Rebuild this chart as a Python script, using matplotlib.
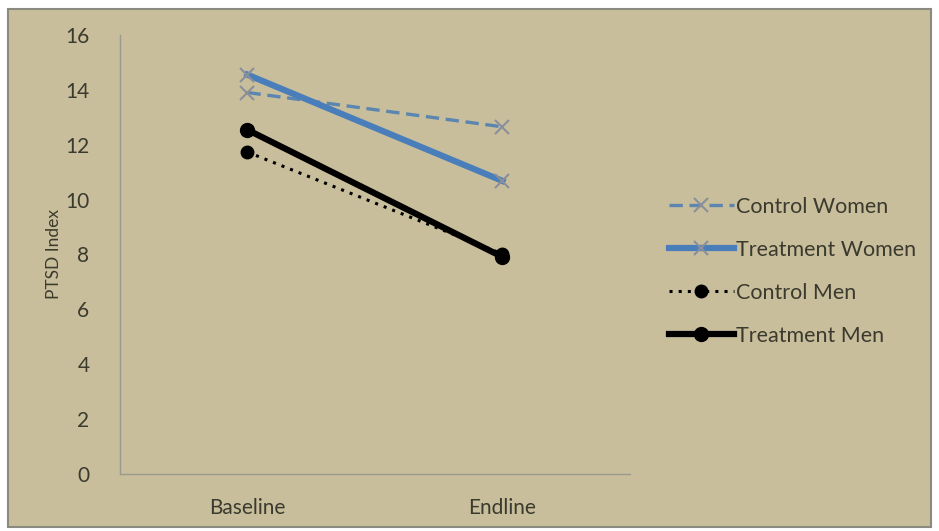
import matplotlib
matplotlib.use("Agg")
import matplotlib.pyplot as plt
from matplotlib.patches import Rectangle

categories = ["Baseline", "Endline"]
control_women = [13.9, 12.65]
treatment_women = [14.55, 10.68]
control_men = [11.73, 8.02]
treatment_men = [12.54, 7.91]
yticks = [0, 2, 4, 6, 8, 10, 12, 14, 16]

bg = "#c9be9b"
txt = "#3a3a2e"
plt.rcParams['font.family'] = ['Lato', 'DejaVu Sans']

fig = plt.figure(figsize=(9.39, 5.31), dpi=100, facecolor="white")
fig.patches.append(Rectangle((0.008, 0.008), 0.984, 0.975, transform=fig.transFigure,
                             facecolor=bg, edgecolor="#8a8a80", linewidth=1.5, zorder=-1))
ax = fig.add_axes([0.1278, 0.1073, 0.543, 0.827])
ax.set_facecolor(bg)
x = [0, 1]
ax.plot(x, control_women, color="#5a86b0", lw=2.4, ls=(0, (4, 2)), marker="x",
        markersize=10, markeredgecolor="#8a8f9a", mew=1.5, label="Control Women")
ax.plot(x, treatment_women, color="#4a7ebb", lw=4.5, marker="x",
        markersize=10, markeredgecolor="#8a8f9a", mew=1.5, label="Treatment Women")
ax.plot(x, control_men, color="black", lw=2.2, ls=(0, (1, 2)), marker="o",
        markersize=9, label="Control Men")
ax.plot(x, treatment_men, color="black", lw=4.5, marker="o",
        markersize=10, label="Treatment Men")

ax.set_xlim(-0.5, 1.5)
ax.set_ylim(0, 16)
ax.set_xticks(x)
ax.set_xticklabels(categories, fontsize=15, color=txt)
ax.set_yticks(yticks)
ax.set_yticklabels([str(t) for t in yticks], fontsize=15, color=txt)
ax.tick_params(axis="y", length=0, pad=22)
ax.tick_params(axis="x", length=0, pad=17)
for s in ["top", "right"]:
    ax.spines[s].set_visible(False)
for s in ["left", "bottom"]:
    ax.spines[s].set_color("#9a9a90")
    ax.spines[s].set_linewidth(1)
ax.set_ylabel("PTSD Index", fontsize=12.5, color=txt, labelpad=2)

leg = ax.legend(loc="center left", bbox_to_anchor=(1.039, 0.462), frameon=False,
                fontsize=15.5, labelcolor=txt, handlelength=3.0, handletextpad=0.1,
                labelspacing=1.07)
fig.savefig("out.png", dpi=100, facecolor="white")
